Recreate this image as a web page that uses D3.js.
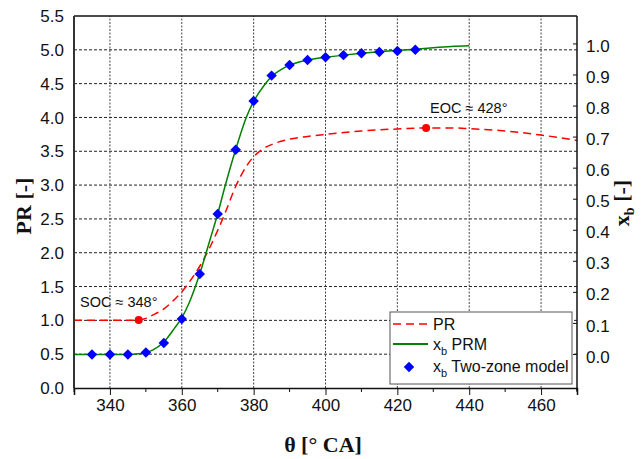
<!DOCTYPE html>
<html>
<head>
<meta charset="utf-8">
<script src="https://cdn.jsdelivr.net/npm/d3@7/dist/d3.min.js"></script>
<style>
  html, body { margin: 0; padding: 0; background: #fff; }
  svg { display: block; }
  .tick-label { font-family: Arial, "Liberation Sans", sans-serif; font-size: 17px; fill: #111; }
  .title { font-family: "Times New Roman", "Liberation Serif", serif; font-weight: bold; font-size: 22px; fill: #111; }
  .note { font-family: Arial, "Liberation Sans", sans-serif; font-size: 14.5px; fill: #111; }
  .legend-text { font-family: Arial, "Liberation Sans", sans-serif; font-size: 16px; fill: #111; }
</style>
</head>
<body>
<svg id="chart" width="641" height="459"></svg>
<script>
// Crank angle ticks and axis ticks
const thetaTicks = [340, 360, 380, 400, 420, 440, 460];
const thetaMinorTicks = [330, 350, 370, 390, 410, 430, 450, 470];
const prTicks = [0.0, 0.5, 1.0, 1.5, 2.0, 2.5, 3.0, 3.5, 4.0, 4.5, 5.0, 5.5];
const xbTicks = [0.0, 0.1, 0.2, 0.3, 0.4, 0.5, 0.6, 0.7, 0.8, 0.9, 1.0];

// Pressure ratio PR
const prTheta = [330, 335, 340, 345, 348, 350, 352, 355, 358, 360, 362, 365, 368, 370, 372, 375, 378, 380, 383, 386, 390, 395, 400, 410, 420, 428, 435, 440, 450, 460, 470];
const prValues = [1.0, 1.0, 1.0, 1.0, 1.005, 1.03, 1.08, 1.17, 1.31, 1.42, 1.56, 1.8, 2.1, 2.33, 2.58, 2.98, 3.28, 3.42, 3.55, 3.62, 3.68, 3.72, 3.75, 3.8, 3.83, 3.845, 3.845, 3.835, 3.8, 3.74, 3.66];

// Burned mass fraction from the PRM
const prmTheta = [330, 340, 345, 348, 350, 352, 355, 358, 360, 362, 365, 368, 370, 372, 375, 378, 380, 383, 385, 388, 390, 395, 400, 405, 410, 415, 420, 425, 430, 435, 440];
const prmXb = [0, 0, 0, 0.002, 0.006, 0.015, 0.04, 0.085, 0.118, 0.165, 0.26, 0.375, 0.453, 0.54, 0.66, 0.765, 0.815, 0.868, 0.895, 0.92, 0.932, 0.948, 0.957, 0.964, 0.970, 0.975, 0.979, 0.983, 0.988, 0.992, 0.994];

// Burned mass fraction from the two-zone model
const tzTheta = [335, 340, 345, 350, 355, 360, 365, 370, 375, 380, 385, 390, 395, 400, 405, 410, 415, 420, 425];
const tzXb = [0.0, 0.0, 0.0, 0.006, 0.037, 0.114, 0.259, 0.452, 0.659, 0.816, 0.898, 0.932, 0.948, 0.957, 0.964, 0.970, 0.974, 0.977, 0.981];

// Start / end of combustion markers
const eventTheta = [348, 428];
const eventPR = [1.005, 3.845];
const eventLabels = ["SOC ≈ 348°", "EOC ≈ 428°"];

const svg = d3.select("#chart");
const W = 641, H = 459;
const margin = { top: 16, right: 64, bottom: 71, left: 74 };
const x0 = margin.left, x1 = W - margin.right;
const y0 = H - margin.bottom, y1 = margin.top;

const x = d3.scaleLinear().domain([330, 470]).range([x0, x1]);
const y = d3.scaleLinear().domain([0, 5.5]).range([y0, y1]);
const yR = d3.scaleLinear().domain([-0.108, 1.09]).range([y0, y1]);

// grid
const grid = svg.append("g");
grid.selectAll("line.h").data(prTicks.filter(v => v > 0 && v < 5.5)).join("line")
  .attr("x1", x0).attr("x2", x1)
  .attr("y1", d => y(d)).attr("y2", d => y(d))
  .attr("stroke", "#222").attr("stroke-width", 1).attr("stroke-dasharray", "3,2");
grid.selectAll("line.v").data(thetaTicks).join("line")
  .attr("x1", d => x(d)).attr("x2", d => x(d))
  .attr("y1", y0).attr("y2", y1)
  .attr("stroke", "#444").attr("stroke-width", 1).attr("stroke-dasharray", "2,1.5");

// PR curve
const prLine = d3.line().x((d, i) => x(prTheta[i])).y(d => y(d)).curve(d3.curveMonotoneX);
svg.append("path").attr("d", prLine(prValues))
  .attr("fill", "none").attr("stroke", "#ff0000").attr("stroke-width", 1.5)
  .attr("stroke-dasharray", "8,5");

// PRM curve
const prmLine = d3.line().x((d, i) => x(prmTheta[i])).y(d => yR(d)).curve(d3.curveMonotoneX);
svg.append("path").attr("d", prmLine(prmXb))
  .attr("fill", "none").attr("stroke", "#008000").attr("stroke-width", 1.5);

// two-zone diamonds
const diamond = d3.symbol().type(d3.symbolDiamond2).size(70);
svg.selectAll("path.tz").data(tzXb).join("path")
  .attr("transform", (d, i) => `translate(${x(tzTheta[i])},${yR(d)})`)
  .attr("d", diamond).attr("fill", "#0000ff");

// SOC / EOC markers
svg.selectAll("circle.ev").data(eventPR).join("circle")
  .attr("cx", (d, i) => x(eventTheta[i])).attr("cy", d => y(d))
  .attr("r", 4).attr("fill", "#ff0000");
svg.append("text").attr("class", "note").attr("x", 80).attr("y", 307).text(eventLabels[0]);
svg.append("text").attr("class", "note").attr("x", 430).attr("y", 113).text(eventLabels[1]);

// frame
const frame = svg.append("g").attr("stroke", "#111").attr("fill", "none");
frame.append("line").attr("x1", x0).attr("x2", x1).attr("y1", y1).attr("y2", y1).attr("stroke-width", 1.5);
frame.append("line").attr("x1", x1).attr("x2", x1).attr("y1", y1).attr("y2", y0 + 3).attr("stroke-width", 1.5);
frame.append("line").attr("x1", x0).attr("x2", x0).attr("y1", y1).attr("y2", y0).attr("stroke-width", 2).attr("stroke", "#333");

// bottom axis
const xAxis = d3.axisBottom(x).tickValues(thetaTicks).tickSize(7).tickFormat(d3.format("d"));
const gx = svg.append("g").attr("transform", `translate(0,${y0})`).call(xAxis);
gx.select(".domain").attr("stroke", "#111").attr("stroke-width", 1.5);
gx.selectAll(".tick line").attr("stroke", "#111");
gx.selectAll(".tick text").attr("class", "tick-label").attr("font-size", null).attr("font-family", null).attr("dy", "0.95em").attr("y", 7);
gx.attr("font-size", null).attr("font-family", null);
svg.append("g").selectAll("line").data(thetaMinorTicks).join("line")
  .attr("x1", d => x(d)).attr("x2", d => x(d)).attr("y1", y0).attr("y2", y0 + 4)
  .attr("stroke", "#111");

// left axis labels
svg.append("g").selectAll("text").data(prTicks).join("text")
  .attr("class", "tick-label").attr("text-anchor", "end")
  .attr("x", 64).attr("y", d => y(d)).attr("dy", "0.36em")
  .text(d => d3.format(".1f")(d));

// right axis ticks and labels
const gr = svg.append("g");
gr.selectAll("line").data(xbTicks).join("line")
  .attr("x1", x1 - 4).attr("x2", x1).attr("y1", d => yR(d)).attr("y2", d => yR(d))
  .attr("stroke", "#111");
gr.selectAll("text").data(xbTicks).join("text")
  .attr("class", "tick-label").attr("x", 586).attr("y", d => yR(d) + 2).attr("dy", "0.36em")
  .text(d => d3.format(".1f")(d));

// axis titles
svg.append("text").attr("class", "title").attr("text-anchor", "middle")
  .attr("transform", "translate(31,206) rotate(-90)").text("PR [-]");
svg.append("text").attr("class", "title").attr("text-anchor", "middle")
  .attr("x", 323).attr("y", 452).text("θ [° CA]");
const rt = svg.append("text").attr("class", "title").attr("text-anchor", "middle")
  .attr("transform", "translate(629,203) rotate(-90)");
rt.append("tspan").text("x");
rt.append("tspan").attr("dy", 5).attr("font-size", "14px").text("b");
rt.append("tspan").attr("dy", -5).text(" [-]");

// legend
const lg = svg.append("g");
lg.append("rect").attr("x", 390).attr("y", 312).attr("width", 182).attr("height", 72)
  .attr("fill", "#fff").attr("stroke", "#555").attr("stroke-width", 1);
lg.append("line").attr("x1", 393).attr("x2", 428).attr("y1", 324).attr("y2", 324)
  .attr("stroke", "#ff0000").attr("stroke-width", 1.5).attr("stroke-dasharray", "8,5");
lg.append("line").attr("x1", 393).attr("x2", 428).attr("y1", 344).attr("y2", 344)
  .attr("stroke", "#008000").attr("stroke-width", 2);
lg.append("path").attr("transform", "translate(409,367)").attr("d", diamond).attr("fill", "#0000ff");
const legendNames = ["PR", "PRM", "Two-zone model"];
const legendY = [330, 350, 372];
legendNames.forEach((name, i) => {
  const t = lg.append("text").attr("class", "legend-text").attr("x", 433).attr("y", legendY[i]);
  if (i === 0) { t.text(name); return; }
  t.append("tspan").text("x");
  t.append("tspan").attr("dy", 5).attr("font-size", "11px").text("b");
  t.append("tspan").attr("dy", -5).text(" " + name);
});
</script>
</body>
</html>
